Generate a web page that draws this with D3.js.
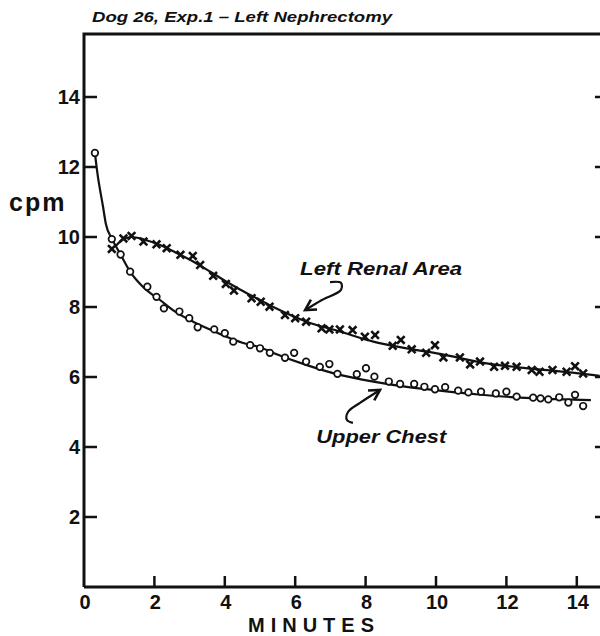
<!DOCTYPE html>
<html>
<head>
<meta charset="utf-8">
<script src="https://cdn.jsdelivr.net/npm/d3@7"></script>
<style>
  body { margin: 0; background: #fff; }
  svg { font-family: "Liberation Sans", Arial, sans-serif; }
  .lbl { font-weight: bold; fill: #111; }
</style>
</head>
<body>
<div id="chart"></div>
<script>
// Upper Chest (open circles)
var chestT = [0.31, 0.79, 1.04, 1.31, 1.80, 2.06, 2.27, 2.71, 2.99, 3.23, 3.70, 4.00, 4.24, 4.72, 5.00,
  5.28, 5.71, 5.97, 6.31, 6.70, 6.97, 7.20, 7.75, 8.01, 8.25, 8.66, 8.98, 9.38, 9.67, 9.97, 10.26,
  10.63, 10.92, 11.28, 11.70, 12.00, 12.29, 12.76, 12.97, 13.19, 13.50, 13.76, 13.95, 14.18];
var chestV = [12.4, 9.94, 9.5, 9.01, 8.58, 8.29, 7.96, 7.87, 7.68, 7.42, 7.36, 7.25, 7.01, 6.91, 6.82,
  6.69, 6.55, 6.69, 6.44, 6.29, 6.37, 6.09, 6.08, 6.25, 6.01, 5.87, 5.80, 5.80, 5.72, 5.65, 5.71,
  5.61, 5.56, 5.58, 5.53, 5.58, 5.44, 5.41, 5.39, 5.36, 5.42, 5.27, 5.49, 5.17];

// Left Renal Area (crosses)
var renalT = [0.79, 1.12, 1.35, 1.69, 2.06, 2.35, 2.74, 3.09, 3.30, 3.67, 4.03, 4.26, 4.76, 5.02, 5.27,
  5.71, 6.00, 6.31, 6.75, 6.97, 7.27, 7.63, 7.98, 8.27, 8.77, 9.00, 9.31, 9.72, 9.97, 10.21, 10.68,
  10.97, 11.25, 11.65, 11.96, 12.29, 12.72, 12.94, 13.31, 13.71, 13.95, 14.18];
var renalV = [9.66, 9.96, 10.03, 9.87, 9.79, 9.68, 9.49, 9.46, 9.20, 8.89, 8.66, 8.47, 8.25, 8.15, 8.01,
  7.77, 7.68, 7.58, 7.39, 7.36, 7.36, 7.34, 7.15, 7.20, 6.89, 7.06, 6.79, 6.69, 6.91, 6.56, 6.56,
  6.36, 6.44, 6.29, 6.32, 6.29, 6.20, 6.15, 6.20, 6.15, 6.31, 6.10];

// hand-drawn fitted curves
var chestFitT = [0.31, 0.38, 0.54, 0.62, 0.80, 1.04, 1.31, 1.7, 2.16, 2.6, 3.1, 3.6, 4.05, 4.5, 5.0, 5.4, 6.33, 7.27, 8.22, 9.17, 10.11, 11.2, 12.39, 13.4, 14.4];
var chestFitV = [12.4, 11.83, 10.87, 10.38, 9.94, 9.5, 9.01, 8.55, 8.2, 7.86, 7.58, 7.35, 7.15, 6.98, 6.85, 6.68, 6.34, 6.06, 5.87, 5.72, 5.61, 5.5, 5.41, 5.37, 5.34];
var renalFitT = [0.88, 1.1, 1.35, 1.7, 2.16, 2.6, 3.1, 3.6, 4.05, 4.43, 5.0, 5.38, 6.33, 7.27, 8.22, 9.17, 10.11, 11.44, 12.39, 13.33, 14.65];
var renalFitV = [9.72, 9.93, 10.0, 9.93, 9.77, 9.56, 9.3, 9.0, 8.72, 8.5, 8.2, 8.0, 7.58, 7.3, 7.01, 6.82, 6.66, 6.39, 6.27, 6.18, 6.03];

var xTicks = [0, 2, 4, 6, 8, 10, 12, 14];
var yTicks = [2, 4, 6, 8, 10, 12, 14];

var width = 600, height = 636;

var x = d3.scaleLinear().domain([0, 14]).range([84, 576.8]);
var y = d3.scaleLinear().domain([0, 14]).range([587, 97]);

var svg = d3.select("#chart").append("svg")
    .attr("width", width)
    .attr("height", height);

var zip = function (t, v) { return t.map(function (d, i) { return {t: d, v: v[i]}; }); };
var chest = zip(chestT, chestV), renal = zip(renalT, renalV);

// frame
var xRight = x(14.8), yTop = y(15.8);
svg.append("path")
  .attr("d", "M" + x(0) + "," + y(0) + "V" + yTop + "H" + xRight + "V" + y(0) + "H" + x(0))
  .attr("fill", "none").attr("stroke", "#111").attr("stroke-width", 3);

// y ticks (inward, both sides)
svg.selectAll(".yt").data(yTicks).enter().append("line")
  .attr("x1", x(0)).attr("x2", x(0) + 13)
  .attr("y1", function (d) { return y(d); }).attr("y2", function (d) { return y(d); })
  .attr("stroke", "#111").attr("stroke-width", 2.5);
svg.selectAll(".yt2").data(yTicks).enter().append("line")
  .attr("x1", xRight).attr("x2", xRight - 10)
  .attr("y1", function (d) { return y(d); }).attr("y2", function (d) { return y(d); })
  .attr("stroke", "#111").attr("stroke-width", 2.5);
svg.selectAll(".yl").data(yTicks).enter().append("text")
  .attr("class", "lbl")
  .attr("x", x(0) - 4).attr("y", function (d) { return y(d) + 7; })
  .attr("text-anchor", "end").attr("font-size", 20)
  .text(function (d) { return d; });

// x ticks (upward)
svg.selectAll(".xt").data(xTicks.slice(1)).enter().append("line")
  .attr("x1", function (d) { return x(d); }).attr("x2", function (d) { return x(d); })
  .attr("y1", y(0)).attr("y2", y(0) - 11)
  .attr("stroke", "#111").attr("stroke-width", 2.5);
svg.selectAll(".xl").data(xTicks).enter().append("text")
  .attr("class", "lbl")
  .attr("x", function (d) { return x(d) + 1; }).attr("y", 609)
  .attr("text-anchor", "middle").attr("font-size", 20)
  .text(function (d) { return d; });

svg.append("text").attr("class", "lbl")
  .attr("x", 314).attr("y", 632).attr("text-anchor", "middle")
  .attr("font-size", 20).attr("letter-spacing", 6)
  .text("MINUTES");

svg.append("text").attr("class", "lbl")
  .attr("x", 9).attr("y", 211)
  .attr("font-size", 25).attr("letter-spacing", 2)
  .text("cpm");

svg.append("text").attr("class", "lbl")
  .attr("x", 92).attr("y", 22).attr("font-size", 14).attr("font-style", "italic")
  .attr("textLength", 300).attr("lengthAdjust", "spacingAndGlyphs")
  .text("Dog 26, Exp.1 \u2013 Left Nephrectomy");

// fitted curves
var line = d3.line()
  .x(function (d) { return x(d.t); })
  .y(function (d) { return y(d.v); })
  .curve(d3.curveMonotoneX);

svg.append("path").datum(zip(chestFitT, chestFitV))
  .attr("d", line).attr("fill", "none").attr("stroke", "#111").attr("stroke-width", 2.2);
svg.append("path").datum(zip(renalFitT, renalFitV))
  .attr("d", line).attr("fill", "none").attr("stroke", "#111").attr("stroke-width", 2.2);

// crosses
var cross = d3.symbol().type(d3.symbolX).size(40);
svg.selectAll(".rn").data(renal).enter().append("path")
  .attr("transform", function (d) { return "translate(" + x(d.t) + "," + y(d.v) + ")"; })
  .attr("d", cross)
  .attr("fill", "none").attr("stroke", "#111").attr("stroke-width", 2.6);

// circles
svg.selectAll(".ch").data(chest).enter().append("circle")
  .attr("cx", function (d) { return x(d.t); })
  .attr("cy", function (d) { return y(d.v); })
  .attr("r", 3.3)
  .attr("fill", "#fff").attr("stroke", "#111").attr("stroke-width", 1.7);

// annotations
svg.append("defs").append("marker")
  .attr("id", "arr").attr("markerUnits", "userSpaceOnUse")
  .attr("markerWidth", 14).attr("markerHeight", 14)
  .attr("viewBox", "-1 -6 12 12").attr("refX", 9).attr("refY", 0)
  .attr("orient", "auto")
  .append("path").attr("d", "M0,-5L9,0L0,5")
  .attr("fill", "none").attr("stroke", "#111").attr("stroke-width", 2.2);

var arrowLine = d3.line()
  .x(function (d) { return x(d.t); })
  .y(function (d) { return y(d.v); })
  .curve(d3.curveCatmullRom);

var renalArrowT = [6.99, 7.30, 7.30, 6.76, 6.28];
var renalArrowV = [8.71, 8.69, 8.49, 8.2, 7.91];
var chestArrowT = [7.64, 7.47, 7.5, 7.84, 8.41];
var chestArrowV = [4.69, 4.77, 5.0, 5.26, 5.63];

[zip(renalArrowT, renalArrowV), zip(chestArrowT, chestArrowV)].forEach(function (a) {
  svg.append("path").datum(a).attr("d", arrowLine)
    .attr("fill", "none").attr("stroke", "#111").attr("stroke-width", 2.2)
    .attr("marker-end", "url(#arr)");
});

svg.append("text").attr("class", "lbl")
  .attr("x", x(6.14)).attr("y", 275).attr("font-size", 19).attr("font-style", "italic")
  .attr("textLength", 162).attr("lengthAdjust", "spacingAndGlyphs")
  .text("Left Renal Area");
svg.append("text").attr("class", "lbl")
  .attr("x", x(6.6)).attr("y", 443).attr("font-size", 19).attr("font-style", "italic")
  .attr("textLength", 130).attr("lengthAdjust", "spacingAndGlyphs")
  .text("Upper Chest");
</script>
</body>
</html>
